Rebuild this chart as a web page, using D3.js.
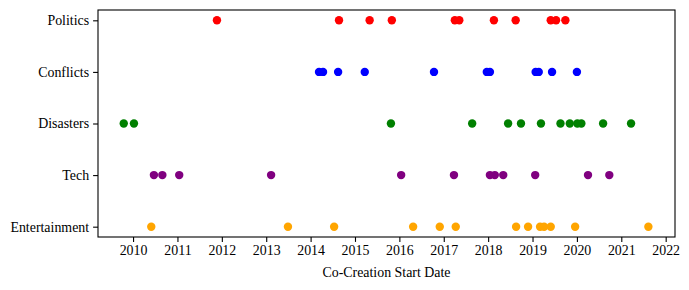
<!DOCTYPE html>
<html>
<head>
<meta charset="utf-8">
<script src="https://cdn.jsdelivr.net/npm/d3@7"></script>
<style>
  body { margin: 0; background: #fff; }
  svg text { font-family: "Times New Roman", "Liberation Serif", serif; fill: #000; }
</style>
</head>
<body>
<script>
var width = 689;
var height = 290;

// categories, top to bottom
var categories = ['Politics', 'Conflicts', 'Disasters', 'Tech', 'Entertainment'];
var colors = ['red', 'blue', 'green', 'purple', 'orange'];

// start dates as decimal years
var politics = [2011.89, 2014.64, 2015.33, 2015.83, 2017.25, 2017.35, 2018.13, 2018.62, 2019.41, 2019.53, 2019.74];
var conflicts = [2014.19, 2014.28, 2014.62, 2015.22, 2016.78, 2017.97, 2018.04, 2019.07, 2019.14, 2019.44, 2020.0];
var disasters = [2009.79, 2010.02, 2015.81, 2017.64, 2018.45, 2018.74, 2019.19, 2019.63, 2019.84, 2020.01, 2020.1, 2020.59, 2021.22];
var tech = [2010.47, 2010.66, 2011.04, 2013.11, 2016.04, 2017.23, 2018.04, 2018.15, 2018.34, 2019.06, 2020.25, 2020.73];
var entertainment = [2010.41, 2013.49, 2014.53, 2016.31, 2016.91, 2017.27, 2018.63, 2018.9, 2019.17, 2019.26, 2019.41, 2019.96, 2021.61];

var series = [politics, conflicts, disasters, tech, entertainment];
var xTicks = [2010, 2011, 2012, 2013, 2014, 2015, 2016, 2017, 2018, 2019, 2020, 2021, 2022];

var margin = {left: 98, right: 14, top: 10, bottom: 53};

var x = d3.scaleLinear()
  .domain([2009.21, 2022.21])
  .range([margin.left, width - margin.right]);

var y = d3.scalePoint()
  .domain(categories)
  .range([margin.top, height - margin.bottom])
  .padding(0.2);

var svg = d3.select('body')
  .append('svg')
  .attr('width', width)
  .attr('height', height)
  .attr('font-family', '"Times New Roman", "Liberation Serif", serif');

// points
categories.forEach(function(cat, i) {
  svg.append('g')
    .selectAll('circle')
    .data(series[i])
    .enter()
    .append('circle')
    .attr('cx', function(d) { return x(d); })
    .attr('cy', y(cat))
    .attr('r', 4.2)
    .attr('fill', colors[i]);
});

// axes
var xAxis = svg.append('g')
  .attr('transform', 'translate(0,' + (height - margin.bottom) + ')')
  .call(d3.axisBottom(x).tickValues(xTicks).tickFormat(d3.format('d')).tickSize(4.9).tickPadding(3));

var yAxis = svg.append('g')
  .attr('transform', 'translate(' + margin.left + ',0)')
  .call(d3.axisLeft(y).tickSize(4.9).tickPadding(4));

xAxis.attr('font-family', null).attr('font-size', null);
yAxis.attr('font-family', null).attr('font-size', null);

svg.selectAll('.domain').remove();
svg.selectAll('.tick line').attr('stroke', '#000').attr('stroke-width', 1.1);
svg.selectAll('.tick text').style('font-size', '13.9px');

// frame
svg.append('rect')
  .attr('x', margin.left)
  .attr('y', margin.top)
  .attr('width', width - margin.left - margin.right)
  .attr('height', height - margin.top - margin.bottom)
  .attr('fill', 'none')
  .attr('stroke', '#000')
  .attr('stroke-width', 1.1);

// x label
svg.append('text')
  .attr('x', (margin.left + width - margin.right) / 2)
  .attr('y', 277)
  .attr('text-anchor', 'middle')
  .style('font-size', '13.9px')
  .text('Co-Creation Start Date');
</script>
</body>
</html>
